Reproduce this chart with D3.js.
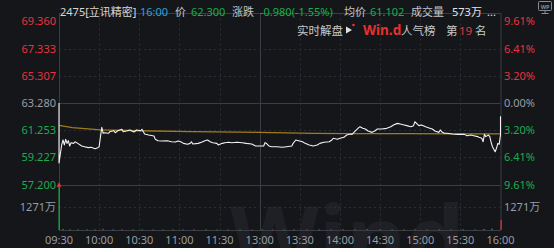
<!DOCTYPE html>
<html><head><meta charset="utf-8">
<script src="https://cdn.jsdelivr.net/npm/d3@7"></script>
<style>
html,body{margin:0;padding:0;background:#14161a;overflow:hidden;}
svg{display:block;}
text{font-family:"Noto Sans","Noto Sans CJK SC",sans-serif;}
</style></head><body>
<svg id="c" width="554" height="248"></svg>
<script>
// ---------- data ----------
const prevClose = 63.28;
const timeLabels = ["09:30","10:00","10:30","11:00","11:30","13:00","13:30","14:00","14:30","15:00","15:30","16:00"];
const timeTickMinutes = [0,30,60,90,120,150,180,210,240,270,300,330];
const priceTicks = [69.36,67.333,65.307,63.28,61.253,59.227,57.2];
const pctLabels = ["9.61%","6.41%","3.20%","0.00%","3.20%","6.41%","9.61%"];
const volMidLabel = "1271万";
const volMid = 1271;

const priceTimes = [0,0,2,3,4,5,6,7,8,9,11,12,14,17,19,22,24,27,29,30,31,32,33,34,37,38,41,42,44,47,48,51,53,56,58,61,62,64,67,71,72,74,77,81,84,87,89,91,93,96,98,99,100,104,107,109,111,113,115,118,119,122,124,127,129,133,137,140,144,147,150,153,154,155,157,159,163,167,170,174,175,177,179,182,184,187,190,193,195,198,202,204,205,208,210,213,215,218,219,221,224,225,227,229,231,234,236,238,241,245,248,250,253,255,258,260,263,265,266,268,269,271,274,276,279,281,284,285,286,288,290,294,298,300,303,305,308,310,313,314,316,317,318,319,321,322,323,324,326,327,328,329,330,330,330];
const prices = [63.28,58.82,60.16,60.53,60.16,60.58,60.28,60.48,60.08,60.33,60.28,60.40,60.28,60.08,60.03,59.96,59.99,59.88,59.96,60.03,60.78,61.48,61.03,61.07,61.03,61.15,61.22,61.07,61.22,61.33,61.15,61.22,61.28,61.13,61.28,61.22,61.33,60.98,60.90,60.83,60.58,60.48,60.46,60.48,60.40,60.38,60.46,60.40,60.28,60.21,60.28,60.40,60.23,60.28,60.38,60.48,60.53,60.40,60.33,60.28,60.16,60.28,60.33,60.36,60.33,60.36,60.33,60.28,60.23,60.08,60.08,60.08,60.33,60.28,60.08,60.03,60.03,59.99,60.03,60.08,60.28,60.53,60.48,60.40,60.28,60.16,60.08,60.16,60.28,60.36,60.40,60.53,60.66,60.58,60.66,60.73,60.90,60.98,60.95,61.15,61.45,61.52,61.40,61.35,61.20,61.10,61.20,61.35,61.35,61.40,61.52,61.65,61.77,61.72,61.65,61.60,61.52,61.60,61.89,61.70,61.60,61.65,61.52,61.45,61.35,61.20,61.10,61.28,61.15,61.03,61.03,60.98,60.95,60.95,60.95,60.85,60.90,60.85,60.78,60.73,60.66,60.40,60.95,60.78,60.90,60.78,60.36,60.03,59.66,59.91,60.28,60.21,60.90,61.65,62.30];

const avgTimes = [0,10,31,60,100,150,190,220,260,300,330];
const avgPrices = [61.62,61.45,61.28,61.22,61.15,61.10,61.02,61.00,61.00,60.99,60.99];

const volTimes = [0,3,8,14,21,27,33,40,47,55,62,70,78,85,93,101,110,118,126,135,144,152,160,168,176,185,194,203,212,221,230,240,249,258,266,275,284,293,302,311,318,324,330];
const volValues = [2542,60,45,35,40,30,70,35,40,30,35,30,25,40,30,35,30,25,30,25,30,35,30,25,40,30,35,30,40,45,40,35,30,35,40,30,35,30,40,45,60,80,560];
const volUp = [0,0,1,0,1,0,1,0,1,0,0,1,0,1,0,1,0,0,1,0,1,0,1,0,1,1,0,1,1,1,0,1,0,1,1,0,0,1,0,1,0,0,1];

// ---------- layout ----------
const W = 554, H = 248;
const L = 59, R = 500.5, TOP = 13.5, PRICE_TOP = 21.5, PRICE_BOT = 184.7, VOL_BOT = 230;
const RED = "#e8333d", GREEN = "#1eac4c", GRAY = "#9b9da2", GRID = "#2b2e35", SOLID = "#3a3d44";

const svg = d3.select("#c");
svg.append("rect").attr("width", W).attr("height", H).attr("fill", "#14161a");

const x = d3.scaleLinear().domain([0, 330]).range([L, R]);
const y = d3.scaleLinear().domain([57.2, 69.36]).range([PRICE_BOT, PRICE_TOP]);
const yv = d3.scaleLinear().domain([0, 2542]).range([VOL_BOT, PRICE_BOT]);

// watermark
svg.append("text").attr("x", 230).attr("y", 272).attr("font-size", 92).attr("font-weight", "bold")
  .attr("fill", "#1e2025").text("Wind");

// grid: vertical
const g = svg.append("g");
timeTickMinutes.forEach((m, i) => {
  if (i === 0 || i === timeTickMinutes.length - 1) return;
  const solid = m === 150;
  g.append("line").attr("x1", Math.round(x(m)) + 0.5).attr("x2", Math.round(x(m)) + 0.5)
    .attr("y1", TOP).attr("y2", VOL_BOT)
    .attr("stroke", solid ? SOLID : GRID).attr("stroke-dasharray", solid ? null : "2,3");
});
// grid: horizontal price
priceTicks.forEach(p => {
  if (p === 69.36) return;
  const solid = (p === prevClose || p === 57.2);
  g.append("line").attr("x1", L).attr("x2", R)
    .attr("y1", Math.round(y(p)) + 0.5).attr("y2", Math.round(y(p)) + 0.5)
    .attr("stroke", solid ? SOLID : GRID).attr("stroke-dasharray", solid ? null : "2,3");
});
// volume mid dashed
g.append("line").attr("x1", L).attr("x2", R).attr("y1", Math.round(yv(volMid)) + 0.5).attr("y2", Math.round(yv(volMid)) + 0.5)
  .attr("stroke", GRID).attr("stroke-dasharray", "2,3");
// frame
g.append("line").attr("x1", L).attr("x2", R + 0.5).attr("y1", TOP).attr("y2", TOP).attr("stroke", SOLID);
g.append("line").attr("x1", L).attr("x2", R + 0.5).attr("y1", VOL_BOT + 0.5).attr("y2", VOL_BOT + 0.5).attr("stroke", SOLID);
g.append("line").attr("x1", L + 0.5).attr("x2", L + 0.5).attr("y1", TOP).attr("y2", VOL_BOT).attr("stroke", SOLID);
g.append("line").attr("x1", R + 0.5).attr("x2", R + 0.5).attr("y1", TOP).attr("y2", VOL_BOT).attr("stroke", SOLID);

// volume bars
volTimes.forEach((t, i) => {
  const v = volValues[i];
  const top = yv(v);
  g.append("rect").attr("x", Math.round(x(t)) - 0.5).attr("width", 1.2)
    .attr("y", top).attr("height", Math.max(0.8, VOL_BOT - top))
    .attr("fill", volUp[i] ? RED : GREEN);
});

// average line
const avgData = avgTimes.map((t, i) => [t, avgPrices[i]]);
svg.append("path").datum(avgData)
  .attr("d", d3.line().x(d => x(d[0])).y(d => y(d[1])))
  .attr("fill", "none").attr("stroke", "#a27c1c").attr("stroke-width", 1.3);

// price line
const priceData = priceTimes.map((t, i) => [t, prices[i]]);
svg.append("path").datum(priceData)
  .attr("d", d3.line().x(d => x(d[0])).y(d => y(d[1])))
  .attr("fill", "none").attr("stroke", "#f2f2f2").attr("stroke-width", 1.1).attr("stroke-linejoin", "round");

// low marker triangle
const lowY = y(57.2);
svg.append("path").attr("d", `M${L - 2.5},${lowY + 2} L${L + 2.5},${lowY + 2} L${L},${lowY - 2.5} Z`).attr("fill", RED);

// left / right price labels
const fs = 11;
priceTicks.forEach((p, i) => {
  const col = p > prevClose ? RED : (p < prevClose ? GREEN : GRAY);
  svg.append("text").attr("x", 56).attr("y", y(p)).attr("dy", "0.36em").attr("text-anchor", "end")
    .attr("font-size", fs).attr("fill", col).text(p.toFixed(3));
  svg.append("text").attr("x", 504).attr("y", y(p)).attr("dy", "0.36em")
    .attr("font-size", fs).attr("fill", col).text(pctLabels[i]);
});
svg.append("text").attr("x", 56).attr("y", yv(volMid)).attr("dy", "0.36em").attr("text-anchor", "end")
  .attr("font-size", fs).attr("fill", GRAY).text(volMidLabel);
svg.append("text").attr("x", 504).attr("y", yv(volMid)).attr("dy", "0.36em")
  .attr("font-size", fs).attr("fill", GRAY).text(volMidLabel);

// time labels
timeTickMinutes.forEach((m, i) => {
  svg.append("text").attr("x", x(m)).attr("y", 240).attr("dy", "0.36em").attr("text-anchor", "middle")
    .attr("font-size", fs).attr("fill", GRAY).text(timeLabels[i]);
});

// header row
const header = [
  [60, "2475[立讯精密]", "#d6d6d6"],
  [140, "16:00", "#2ea2d4"],
  [175, "价", "#c4c4c4"],
  [191, "62.300", GREEN],
  [232, "涨跌", "#c4c4c4"],
  [260, "-0.980(-1.55%)", GREEN],
  [344, "均价", "#c4c4c4"],
  [370, "61.102", GREEN],
  [411, "成交量", "#c4c4c4"],
  [452, "573万", "#e4e4e4"],
  [487, "...", "#e4e4e4"]
];
header.forEach(h => {
  svg.append("text").attr("x", h[0]).attr("y", 16).attr("font-size", 11).attr("fill", h[2]).text(h[1]);
});
// row 2
const row2 = [
  [297, "实时解盘", "#c8c8c8", 11.5, "normal"],
  [363, "Win.d", "#e8302c", 13.5, "bold"],
  [401, "人气榜", "#c8c8c8", 11.5, "normal"],
  [446, "第", "#c8c8c8", 11.5, "normal"],
  [459, "19", RED, 11.5, "normal"],
  [475, "名", "#c8c8c8", 11.5, "normal"]
];
row2.forEach(h => {
  svg.append("text").attr("x", h[0]).attr("y", 34.5).attr("font-size", h[3]).attr("font-weight", h[4])
    .attr("fill", h[2]).text(h[1]);
});
svg.append("path").attr("d", "M346,26.5 L352,30 L346,33.5 Z").attr("fill", "#e0e0e0");
svg.append("circle").attr("cx", 353.5).attr("cy", 25).attr("r", 1.3).attr("fill", RED);

// top-right icon
svg.append("rect").attr("x", 538.5).attr("y", 1.5).attr("width", 13).attr("height", 9).attr("rx", 1)
  .attr("fill", "none").attr("stroke", "#8a8c90");
svg.append("text").attr("x", 545).attr("y", 8.5).attr("text-anchor", "middle").attr("font-size", 5.5)
  .attr("font-weight", "bold").attr("fill", "#8a8c90").text("WP");
svg.append("line").attr("x1", 545).attr("x2", 545).attr("y1", 10.5).attr("y2", 13).attr("stroke", "#8a8c90");
svg.append("line").attr("x1", 541.5).attr("x2", 548.5).attr("y1", 13.5).attr("y2", 13.5).attr("stroke", "#8a8c90");
</script>
</body></html>
